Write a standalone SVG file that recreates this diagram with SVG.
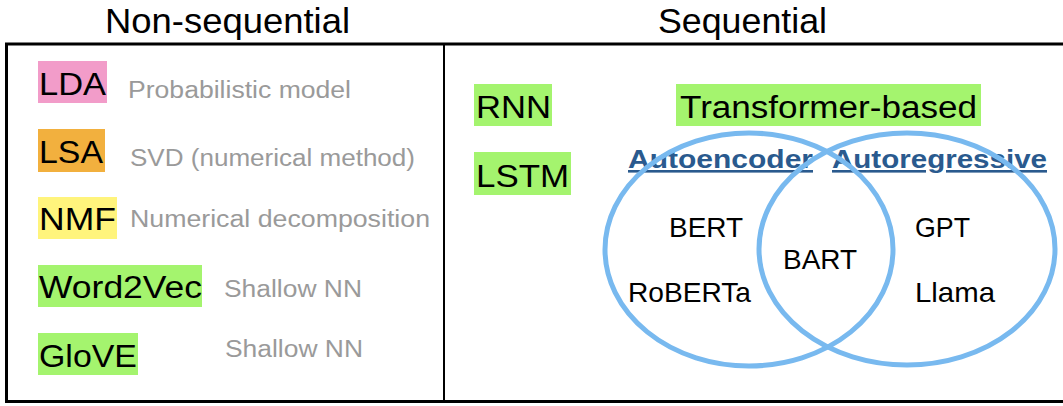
<svg xmlns="http://www.w3.org/2000/svg" width="1063" height="406" viewBox="0 0 1063 406">
<style>
  text { font-family: "Liberation Sans", Arial, Helvetica, sans-serif; }
  .head { font-size: 35px; fill: #000; }
  .lbl { font-size: 31px; fill: #000; }
  .desc { font-size: 23px; fill: #9a9a9a; }
  .cat { font-size: 26px; font-weight: bold; fill: #2a5a8e; text-decoration: underline; }
  .model { font-size: 28px; fill: #000; }
  .set { fill: none; stroke: #78b9ef; stroke-width: 5; }
  .pink { fill: #f29cc9; }
  .orange { fill: #f2b03e; }
  .yellow { fill: #fff47c; }
  .green { fill: #a4f46e; }
</style>
<rect x="0" y="0" width="1063" height="406" fill="#ffffff"/>

<g id="frame" fill="none" stroke="#000">
  <path d="M1066,44 H6.5 V401.5 H1066" stroke-width="3"/>
  <line x1="444" y1="44" x2="444" y2="401" stroke-width="2"/>
</g>

<g id="heading-nonseq"><text class="head" x="105" y="33" textLength="245" lengthAdjust="spacingAndGlyphs">Non-sequential</text></g>
<g id="heading-seq"><text class="head" x="658" y="33" textLength="169" lengthAdjust="spacingAndGlyphs">Sequential</text></g>

<g id="lda">
  <rect class="pink" x="38" y="61" width="69" height="42"/>
  <text class="lbl" x="39" y="95" textLength="67" lengthAdjust="spacingAndGlyphs">LDA</text>
  <text class="desc" x="128" y="98" textLength="223" lengthAdjust="spacingAndGlyphs">Probabilistic model</text>
</g>
<g id="lsa">
  <rect class="orange" x="38" y="129" width="67" height="43"/>
  <text class="lbl" x="39" y="163" textLength="64" lengthAdjust="spacingAndGlyphs">LSA</text>
  <text class="desc" x="130" y="166" textLength="285" lengthAdjust="spacingAndGlyphs">SVD (numerical method)</text>
</g>
<g id="nmf">
  <rect class="yellow" x="38" y="197" width="79" height="42"/>
  <text class="lbl" x="39" y="230" textLength="77" lengthAdjust="spacingAndGlyphs">NMF</text>
  <text class="desc" x="130" y="227" textLength="300" lengthAdjust="spacingAndGlyphs">Numerical decomposition</text>
</g>
<g id="word2vec">
  <rect class="green" x="38" y="265" width="164" height="42"/>
  <text class="lbl" x="39" y="298" textLength="163" lengthAdjust="spacingAndGlyphs">Word2Vec</text>
  <text class="desc" x="224" y="297" textLength="138" lengthAdjust="spacingAndGlyphs">Shallow NN</text>
</g>
<g id="glove">
  <rect class="green" x="38" y="333" width="100" height="42"/>
  <text class="lbl" x="39" y="367" textLength="98" lengthAdjust="spacingAndGlyphs">GloVE</text>
  <text class="desc" x="225" y="357" textLength="138" lengthAdjust="spacingAndGlyphs">Shallow NN</text>
</g>

<g id="rnn">
  <rect class="green" x="474" y="84" width="78" height="42"/>
  <text class="lbl" x="476" y="118" textLength="75" lengthAdjust="spacingAndGlyphs">RNN</text>
</g>
<g id="lstm">
  <rect class="green" x="474" y="152" width="97" height="43"/>
  <text class="lbl" x="476" y="187" textLength="93" lengthAdjust="spacingAndGlyphs">LSTM</text>
</g>
<g id="transformer">
  <rect class="green" x="676" y="84" width="305" height="42"/>
  <text class="lbl" x="680" y="118" textLength="297" lengthAdjust="spacingAndGlyphs">Transformer-based</text>
</g>

<g id="autoencoder">
  <text class="cat" x="628" y="168" textLength="185" lengthAdjust="spacingAndGlyphs">Autoencoder</text>
  <text class="model" x="669" y="237" textLength="74" lengthAdjust="spacingAndGlyphs">BERT</text>
  <text class="model" x="628" y="302" textLength="123" lengthAdjust="spacingAndGlyphs">RoBERTa</text>
</g>
<g id="autoregressive">
  <text class="cat" x="832" y="168" textLength="215" lengthAdjust="spacingAndGlyphs">Autoregressive</text>
  <text class="model" x="915" y="237" textLength="55" lengthAdjust="spacingAndGlyphs">GPT</text>
  <text class="model" x="915" y="302" textLength="80" lengthAdjust="spacingAndGlyphs">Llama</text>
</g>
<g id="both">
  <text class="model" x="783" y="269" textLength="74" lengthAdjust="spacingAndGlyphs">BART</text>
</g>

<g id="sets">
  <ellipse class="set" cx="749" cy="249.5" rx="144" ry="116.5"/>
  <ellipse class="set" cx="907" cy="249" rx="148" ry="116"/>
</g>
</svg>
